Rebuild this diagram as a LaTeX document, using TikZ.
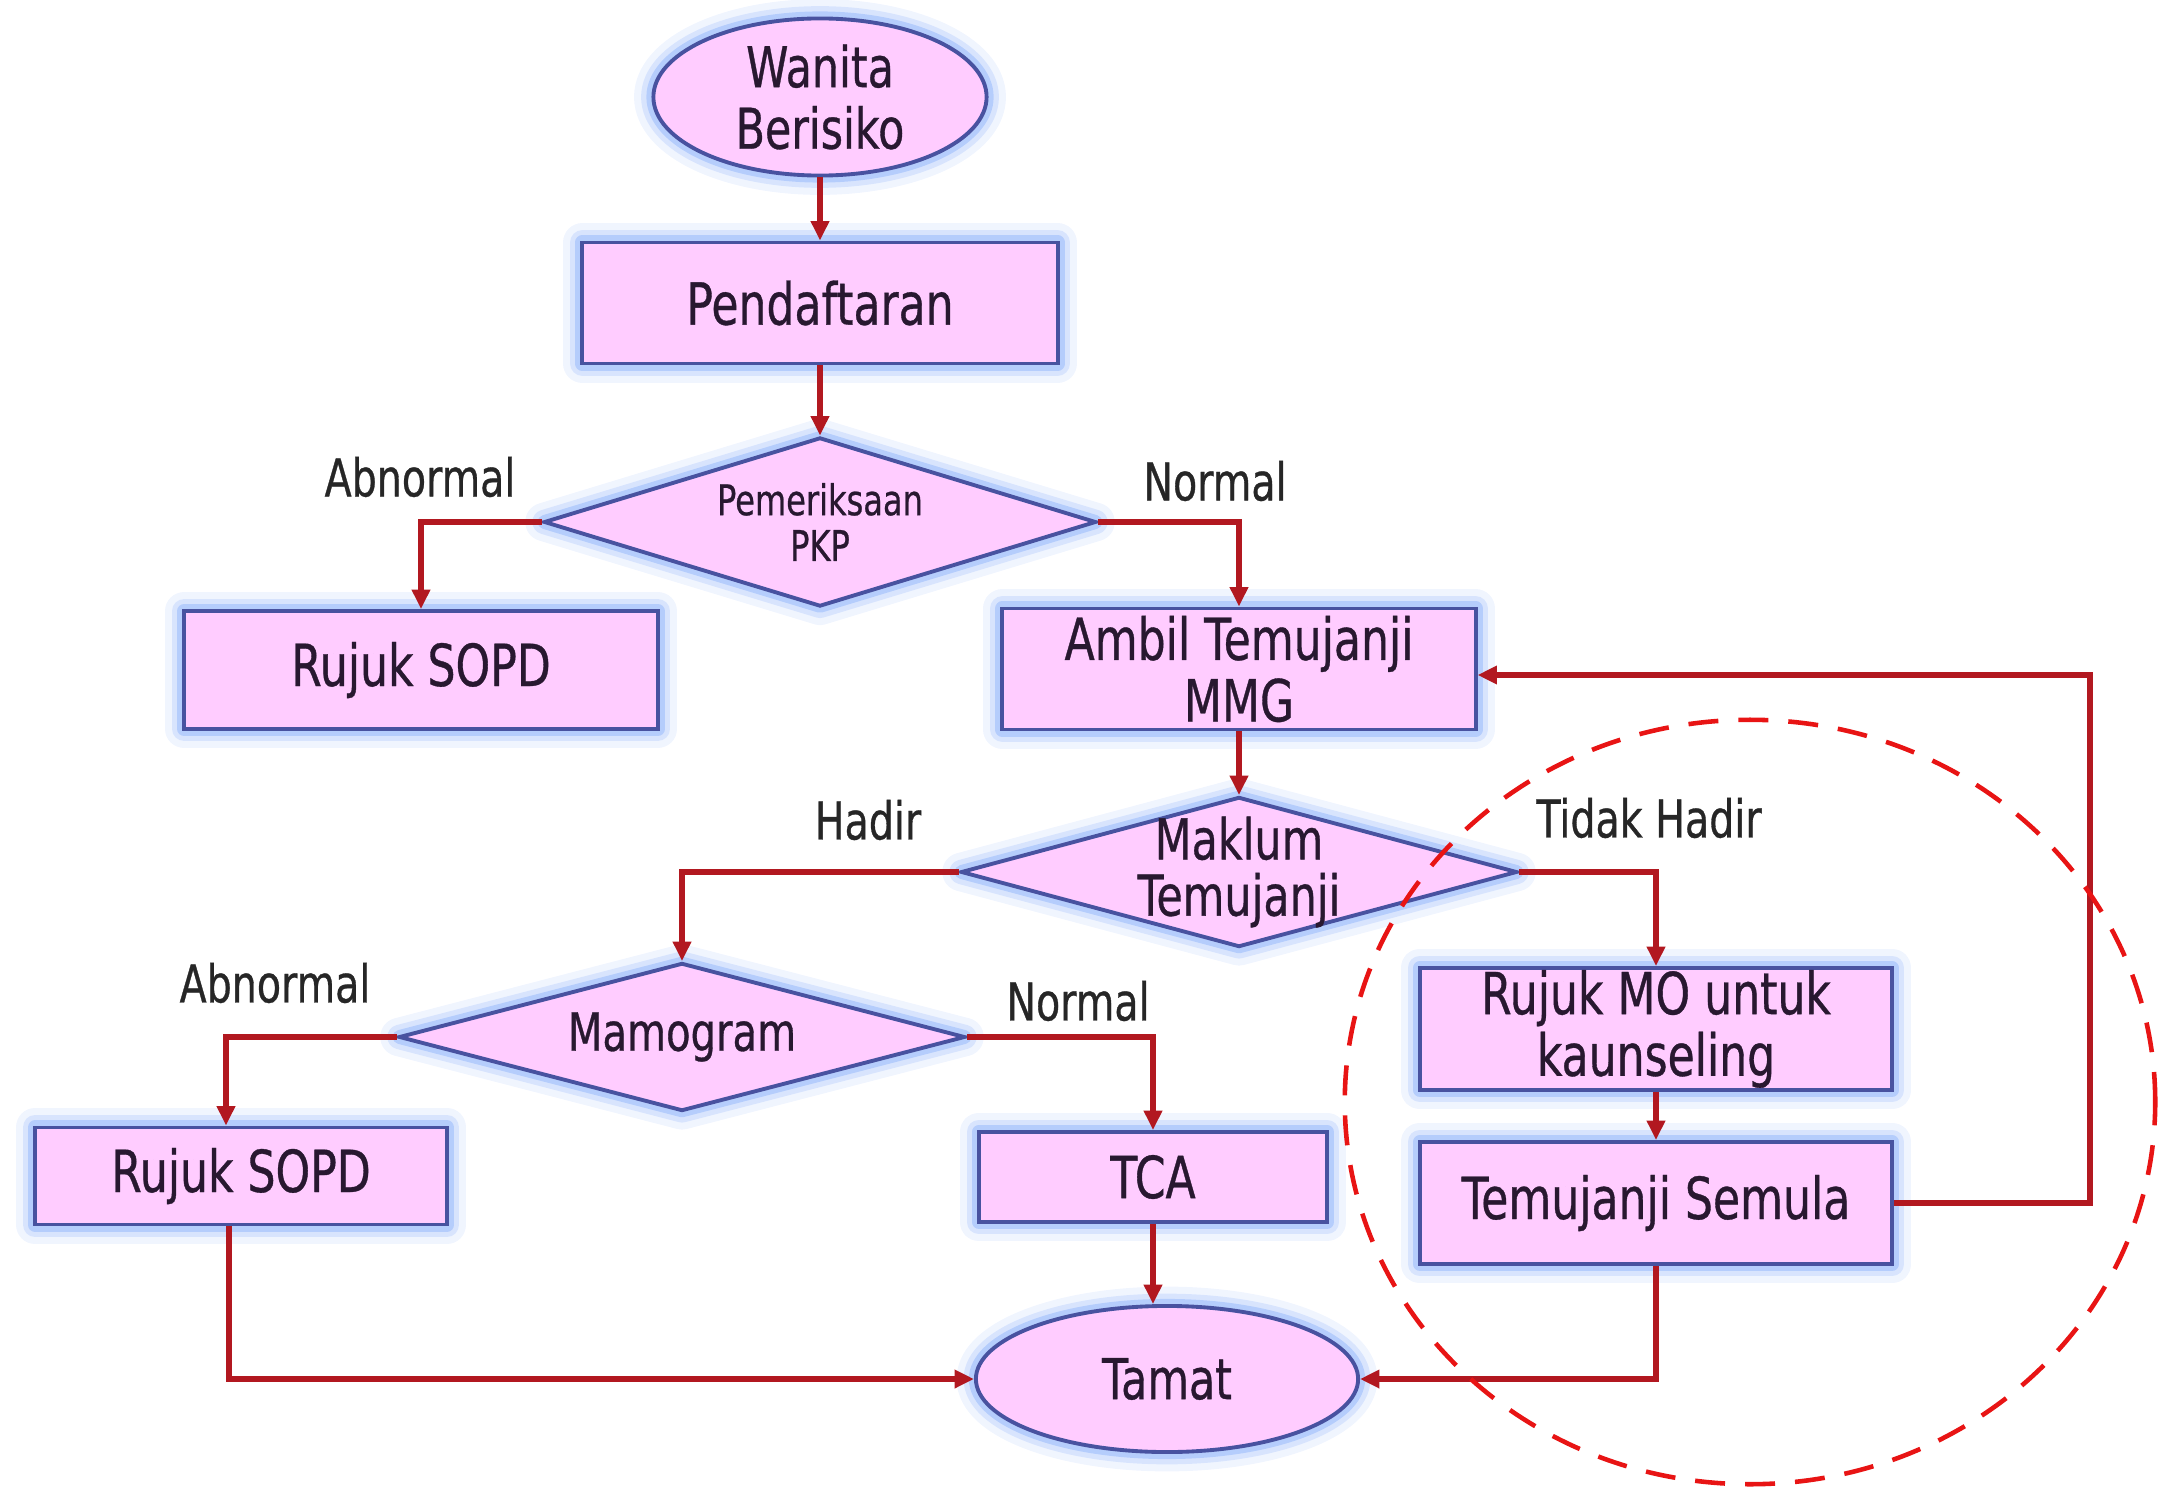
\documentclass[tikz,border=0pt]{standalone}
\usepackage{fontspec}
\setmainfont{DejaVu Sans}[FakeStretch=0.76, FakeBold=0.6]
\usetikzlibrary{arrows.meta, positioning, shapes.geometric}
\definecolor{boxfill}{RGB}{255,204,255}
\definecolor{boxline}{RGB}{72,82,160}
\definecolor{glow}{RGB}{130,170,250}
\definecolor{flowred}{RGB}{178,24,32}
\definecolor{ringred}{RGB}{232,20,20}
\definecolor{ink}{RGB}{40,24,48}

\begin{document}
\begin{tikzpicture}[x=0.01cm, y=-0.01cm,
  base/.style={fill=boxfill, draw=boxline, line width=1.1pt, text=ink, align=center, inner sep=0pt,
    preaction={draw=glow, line width=11pt, opacity=0.12, line join=round},
    preaction={draw=glow, line width=7pt, opacity=0.22, line join=round},
    preaction={draw=glow, line width=4pt, opacity=0.4, line join=round}},
  proc/.style={base, rectangle, minimum width=4.73cm, minimum height=1.21cm, font=\fontsize{16.5}{17.5}\selectfont},
  term/.style={base, ellipse, font=\fontsize{16}{17.5}\selectfont},
  decide/.style={base, diamond},
  dtext/.style={align=center, text=ink, inner sep=0pt, font=\fontsize{16}{16}\selectfont},
  lbl/.style={text=black!85, font=\fontsize{14.8}{16}\selectfont},
  link/.style={draw=flowred, line width=1.6pt, -{Triangle[length=5.5pt, width=5pt]}}]
  \useasboundingbox (0,0) rectangle (2178,1488);

  % shapes
  \node[term, minimum width=3.33cm, minimum height=1.57cm] (wanita) at (820,97) {Wanita\\Berisiko};
  \node[proc, minimum width=4.75cm] (daftar) at (820,303) {Pendaftaran};
  \node[decide, minimum width=5.52cm, minimum height=1.69cm,
    label={[dtext, font=\fontsize{12}{13}\selectfont]center:Pemeriksaan\\PKP}] (pkp) at (820,522) {};
  \node[proc, minimum height=1.18cm] (sopdA) at (421,670) {Rujuk SOPD};
  \node[proc] (ambil) at (1239,669) {Ambil Temujanji\\MMG};
  \node[decide, minimum width=5.56cm, minimum height=1.5cm,
    label={[dtext]center:Maklum\\Temujanji}] (maklum) at (1239,872) {};
  \node[decide, minimum width=5.66cm, minimum height=1.48cm,
    label={[dtext, font=\fontsize{15}{16}\selectfont]center:Mamogram}] (mamo) at (682,1037) {};
  \node[proc, minimum width=4.12cm, minimum height=0.97cm] (sopdB) at (241,1176) {Rujuk SOPD};
  \node[proc, minimum width=3.48cm, minimum height=0.9cm] (tca) at (1153,1177) {TCA};
  \node[term, minimum width=3.82cm, minimum height=1.46cm] (tamat) at (1167,1379) {Tamat};
  \node[proc, minimum width=4.72cm, minimum height=1.22cm] (mo) at (1656,1029) {Rujuk MO untuk\\kaunseling};
  \node[proc, minimum width=4.72cm, minimum height=1.22cm] (semula) at (1656,1203) {Temujanji Semula};

  % branch labels
  \node[lbl] (abnA) at (420,477) {Abnormal};
  \node[lbl] (normA) at (1215,481) {Normal};
  \node[lbl] (hadir) at (868,820) {Hadir};
  \node[lbl] (tidak) at (1649,818) {Tidak Hadir};
  \node[lbl] (abnB) at (275,983) {Abnormal};
  \node[lbl] (normB) at (1078,1001) {Normal};

  % connectors
  \draw[link] (wanita) -- (daftar);
  \draw[link] (daftar) -- (pkp);
  \draw[link] (pkp.west) -| (sopdA.north);
  \draw[link] (pkp.east) -| (ambil.north);
  \draw[link] (ambil) -- (maklum);
  \draw[link] (maklum.west) -| (mamo.north);
  \draw[link] (maklum.east) -| (mo.north);
  \draw[link] (mamo.west) -| ([xshift=-0.15cm]sopdB.north);
  \draw[link] (mamo.east) -| (tca.north);
  \draw[link] (tca.south) -- (tca.south |- tamat.north);
  \draw[link] ([xshift=-0.12cm]sopdB.south) |- (tamat.west);
  \draw[link] (mo) -- (semula);
  \draw[link] (semula.south) |- (tamat.east);
  \draw[link] (semula.east) -- ++(196,0) |- ([yshift=-0.06cm]ambil.east);

  % dashed ring
  \draw[ringred, line width=1.3pt, dash pattern=on 0.3cm off 0.2cm]
    (1750,1102) ellipse [x radius=4.05cm, y radius=3.82cm];
\end{tikzpicture}
\end{document}
